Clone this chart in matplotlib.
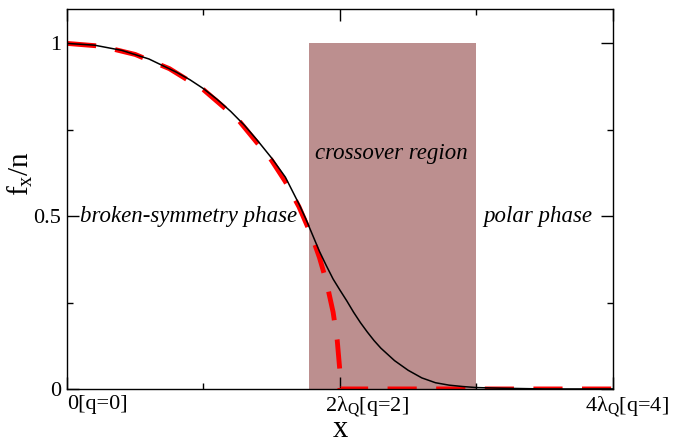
"""
plot.py

Order parameter f_x/n across the phase diagram.
"""

import matplotlib
matplotlib.use("Agg")
import matplotlib.pyplot as plt
from matplotlib.transforms import ScaledTranslation

# black solid curve
black_x = [0.0, 0.2, 0.4, 0.6, 0.8, 0.9, 1.0, 1.1, 1.2, 1.3, 1.4, 1.5,
           1.6, 1.7, 1.75, 1.8, 1.85, 1.9, 1.95, 2.0, 2.05, 2.1, 2.15,
           2.2, 2.25, 2.3, 2.4, 2.5, 2.6, 2.7, 2.8, 2.9, 3.0, 3.2, 3.5, 4.0]
black_y = [1.0, 0.995, 0.980, 0.955, 0.917, 0.895, 0.869, 0.838, 0.803,
           0.763, 0.717, 0.668, 0.613, 0.535, 0.492, 0.445, 0.398, 0.357,
           0.318, 0.286, 0.255, 0.222, 0.192, 0.165, 0.140, 0.118, 0.082,
           0.054, 0.032, 0.018, 0.011, 0.007, 0.004, 0.002, 0.0, 0.0]

# red dashed curve
red_x = [0.0, 0.25, 0.5, 0.75, 1.0, 1.25, 1.5, 1.6, 1.7, 1.8, 1.85, 1.9,
         1.95, 1.98, 2.0, 2.0, 4.0]
red_y = [1.0, 0.992, 0.968, 0.927, 0.866, 0.781, 0.661, 0.600, 0.527,
         0.436, 0.380, 0.312, 0.222, 0.141, 0.05, 0.0, 0.0]

# crossover band
band_x = [1.77, 3.0]
band_top = 1.0

xticks = [0, 2, 4]
xticklabels = ["0[q=0]", "2λ$_{\\mathrm{Q}}$[q=2]", "4λ$_{\\mathrm{Q}}$[q=4]"]
yticks = [0, 0.5, 1]
yticklabels = ["0", "0.5", "1"]

plt.rcParams["font.family"] = ["Liberation Serif", "DejaVu Serif"]
plt.rcParams["mathtext.fontset"] = "custom"
plt.rcParams["mathtext.rm"] = "Liberation Serif"
plt.rcParams["mathtext.it"] = "Liberation Serif:italic"


def main():
    fig = plt.figure(figsize=(6.84, 4.43), dpi=100)
    ax = fig.add_axes([0.098, 0.122, 0.798, 0.858])

    ax.fill_between(band_x, 0, band_top, color="#bc8f8f", lw=0, zorder=1)

    ax.plot(black_x, black_y, color="black", lw=1.1, zorder=3)
    ax.plot(red_x, red_y, color="red", lw=3.5, dashes=(6, 4),
            dash_capstyle="butt", zorder=2)

    ax.set_xlim(0, 4)
    ax.set_ylim(0, 1.10)

    ax.set_xticks(xticks)
    ax.set_xticklabels(xticklabels, ha="left")
    ax.set_xticks([1, 3], minor=True)
    ax.set_yticks(yticks)
    ax.set_yticklabels(yticklabels)
    ax.set_yticks([0.25, 0.75], minor=True)

    ax.tick_params(which="both", direction="in", top=True, right=True,
                   width=1, labelsize=16)
    ax.tick_params(which="major", length=8.5, pad=4)
    ax.tick_params(which="minor", length=4.3)
    for s in ax.spines.values():
        s.set_linewidth(1.0)

    # shift tick labels like in the original
    shifts = [0, -15, -28]
    for lab, dx in zip(ax.get_xticklabels(), shifts):
        lab.set_transform(lab.get_transform()
                          + ScaledTranslation(dx / 100, 0, fig.dpi_scale_trans))

    ax.set_xlabel("x", fontsize=22, labelpad=-3.5)
    ax.set_ylabel("f$_{\\mathrm{x}}$/n", fontsize=21)
    ax.yaxis.set_label_coords(-0.058, 0.566)

    ax.text(0.89, 0.5, "broken-symmetry phase", style="italic",
            fontsize=16.5, ha="center", va="center", zorder=4)
    ax.text(2.38, 0.68, "crossover region", style="italic",
            fontsize=16.5, ha="center", va="center", zorder=4)
    ax.text(3.45, 0.5, "polar phase", style="italic",
            fontsize=16.5, ha="center", va="center", zorder=4)

    fig.savefig("out.png", dpi=100)
    plt.close(fig)


if __name__ == "__main__":
    main()
